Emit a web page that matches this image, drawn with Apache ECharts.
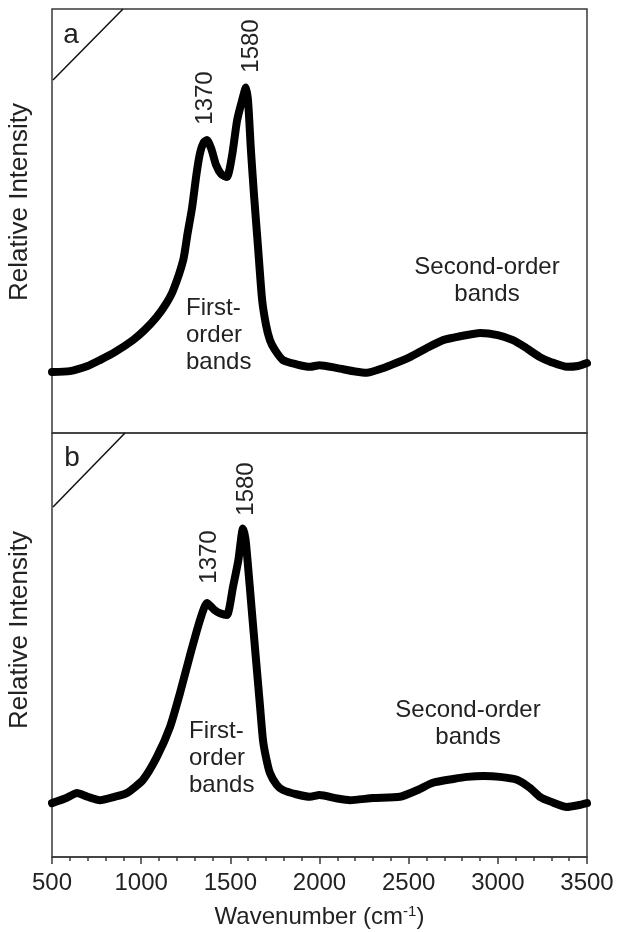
<!DOCTYPE html>
<html>
<head>
<meta charset="utf-8">
<script src="https://cdn.jsdelivr.net/npm/echarts@6/dist/echarts.min.js"></script>
<style>
html,body{margin:0;padding:0;background:#fff;}
#c{width:618px;height:932px;}
</style>
</head>
<body>
<div id="c"></div>
<script>
// Wavenumber (cm-1) sample positions and relative intensities
const wnA = [500,600,700,769,850,954,1020,1088,1140,1180,1236,1260,1285,1310,1330,1350,1369,1395,1420,1450,1481,1510,1537,1560,1588,1600,1615,1633,1655,1678,1700,1722,1750,1795,1870,1947,2000,2100,2200,2266,2350,2400,2507,2600,2693,2800,2900,3000,3085,3150,3236,3300,3387,3450,3500];
const intA = [14.4,14.6,15.8,17.2,19.0,21.9,24.3,27.4,30.5,33.7,40.8,47.0,53.0,61.0,66.0,68.5,69.1,66.8,63.2,61.0,60.4,65.5,73.5,77.5,81.5,78.0,67.0,56.0,44.0,31.5,25.5,21.9,19.6,17.2,16.2,15.6,16.0,15.3,14.5,14.2,15.2,16.0,17.9,20.0,21.9,22.9,23.6,23.1,21.9,20.3,17.9,16.7,15.6,15.8,16.5];

const wnB = [500,580,640,700,769,850,920,1010,1088,1162,1218,1274,1330,1369,1410,1442,1481,1515,1545,1571,1585,1600,1622,1644,1666,1683,1700,1722,1760,1795,1870,1947,2000,2100,2171,2300,2451,2550,2636,2750,2827,2920,3012,3107,3180,3236,3300,3387,3450,3500];
const intB = [12.7,13.9,15.1,14.2,13.4,14.2,15.1,18.2,23.6,30.7,38.7,47.6,55.9,59.9,58.3,57.5,57.1,63.7,70.0,77.5,75.0,68.2,57.3,46.5,35.8,27.6,23.5,19.8,17.0,15.8,14.8,14.2,14.6,13.8,13.4,13.9,14.2,15.8,17.5,18.4,18.9,19.1,18.9,18.2,16.3,14.2,13.0,11.8,12.2,12.7];

const panelLetters = ['a','b'];
const peakLabels = ['1370','1580'];
const yTitle = 'Relative Intensity';
const xTitle = 'Wavenumber (cm{sup|-1})';

const FONT = '"Liberation Sans", Arial, Helvetica, sans-serif';
const chart = echarts.init(document.getElementById('c'), null, {renderer:'canvas'});

function pairs(x, y){ return x.map((v,i)=>[v,y[i]]); }

const G = [{left:52, top:9, width:535, height:424}, {left:52, top:433, width:535, height:424}];

const option = {
  animation:false,
  backgroundColor:'#fff',
  grid: G.map(g=>Object.assign({show:true, borderColor:'#3a3a3a', borderWidth:1.5, backgroundColor:'transparent'}, g)),
  xAxis: [
    {gridIndex:0, type:'value', min:500, max:3500, interval:500,
     axisLine:{show:false}, axisTick:{show:false}, axisLabel:{show:false}, splitLine:{show:false}},
    {gridIndex:1, type:'value', min:500, max:3500, interval:500,
     axisLine:{show:true, lineStyle:{color:'#3a3a3a', width:1.5}},
     axisTick:{show:true, inside:false, length:7, lineStyle:{color:'#3a3a3a', width:1.5}},
     minorTick:{show:true, splitNumber:5, length:4, lineStyle:{color:'#3a3a3a', width:1.5}},
     axisLabel:{show:true, margin:14, fontSize:24, color:'#222', fontFamily:FONT,
       formatter:function(v){return String(v);}},
     splitLine:{show:false},
     name:xTitle, nameLocation:'middle', nameGap:47,
     nameTextStyle:{fontSize:24, color:'#222', fontFamily:FONT,
       rich:{sup:{fontSize:15, color:'#222', fontFamily:FONT, verticalAlign:'top', padding:[0,0,12,0]}}}}
  ],
  yAxis: [0,1].map(i=>({gridIndex:i, type:'value', min:0, max:100,
     axisLine:{show:false}, axisTick:{show:false}, axisLabel:{show:false}, splitLine:{show:false}})),
  series: [
    {type:'line', xAxisIndex:0, yAxisIndex:0, data:pairs(wnA,intA), showSymbol:false, smooth:0.2,
     lineStyle:{color:'#000', width:8, join:'round', cap:'round'}},
    {type:'line', xAxisIndex:1, yAxisIndex:1, data:pairs(wnB,intB), showSymbol:false, smooth:0.2,
     lineStyle:{color:'#000', width:8, join:'round', cap:'round'}}
  ],
  graphic: [
    {type:'line', shape:{x1:53,y1:80,x2:123,y2:9}, style:{stroke:'#111', lineWidth:1.5}},
    {type:'line', shape:{x1:53,y1:507,x2:125,y2:433}, style:{stroke:'#111', lineWidth:1.5}},
    {type:'text', x:71, y:35, style:{text:panelLetters[0], font:'28px '+FONT, fill:'#222', align:'center', verticalAlign:'middle'}},
    {type:'text', x:72, y:458, style:{text:panelLetters[1], font:'28px '+FONT, fill:'#222', align:'center', verticalAlign:'middle'}},
    {type:'text', x:20, y:202, rotation:Math.PI/2, style:{text:yTitle, font:'26px '+FONT, fill:'#222', align:'center', verticalAlign:'middle'}},
    {type:'text', x:20, y:630, rotation:Math.PI/2, style:{text:yTitle, font:'26px '+FONT, fill:'#222', align:'center', verticalAlign:'middle'}},
    {type:'text', x:205, y:98, rotation:Math.PI/2, style:{text:peakLabels[0], font:'24px '+FONT, fill:'#222', align:'center', verticalAlign:'middle'}},
    {type:'text', x:251, y:46, rotation:Math.PI/2, style:{text:peakLabels[1], font:'24px '+FONT, fill:'#222', align:'center', verticalAlign:'middle'}},
    {type:'text', x:209, y:557, rotation:Math.PI/2, style:{text:peakLabels[0], font:'24px '+FONT, fill:'#222', align:'center', verticalAlign:'middle'}},
    {type:'text', x:246, y:489, rotation:Math.PI/2, style:{text:peakLabels[1], font:'24px '+FONT, fill:'#222', align:'center', verticalAlign:'middle'}},
    {type:'text', x:186, y:295, style:{text:'First-\norder\nbands', font:'24px '+FONT, lineHeight:27, fill:'#222', align:'left', verticalAlign:'top'}},
    {type:'text', x:189, y:718, style:{text:'First-\norder\nbands', font:'24px '+FONT, lineHeight:27, fill:'#222', align:'left', verticalAlign:'top'}},
    {type:'text', x:487, y:254, style:{text:'Second-order\nbands', font:'24px '+FONT, lineHeight:27, fill:'#222', align:'center', verticalAlign:'top'}},
    {type:'text', x:468, y:697, style:{text:'Second-order\nbands', font:'24px '+FONT, lineHeight:27, fill:'#222', align:'center', verticalAlign:'top'}}
  ]
};
chart.setOption(option);
</script>
</body>
</html>
